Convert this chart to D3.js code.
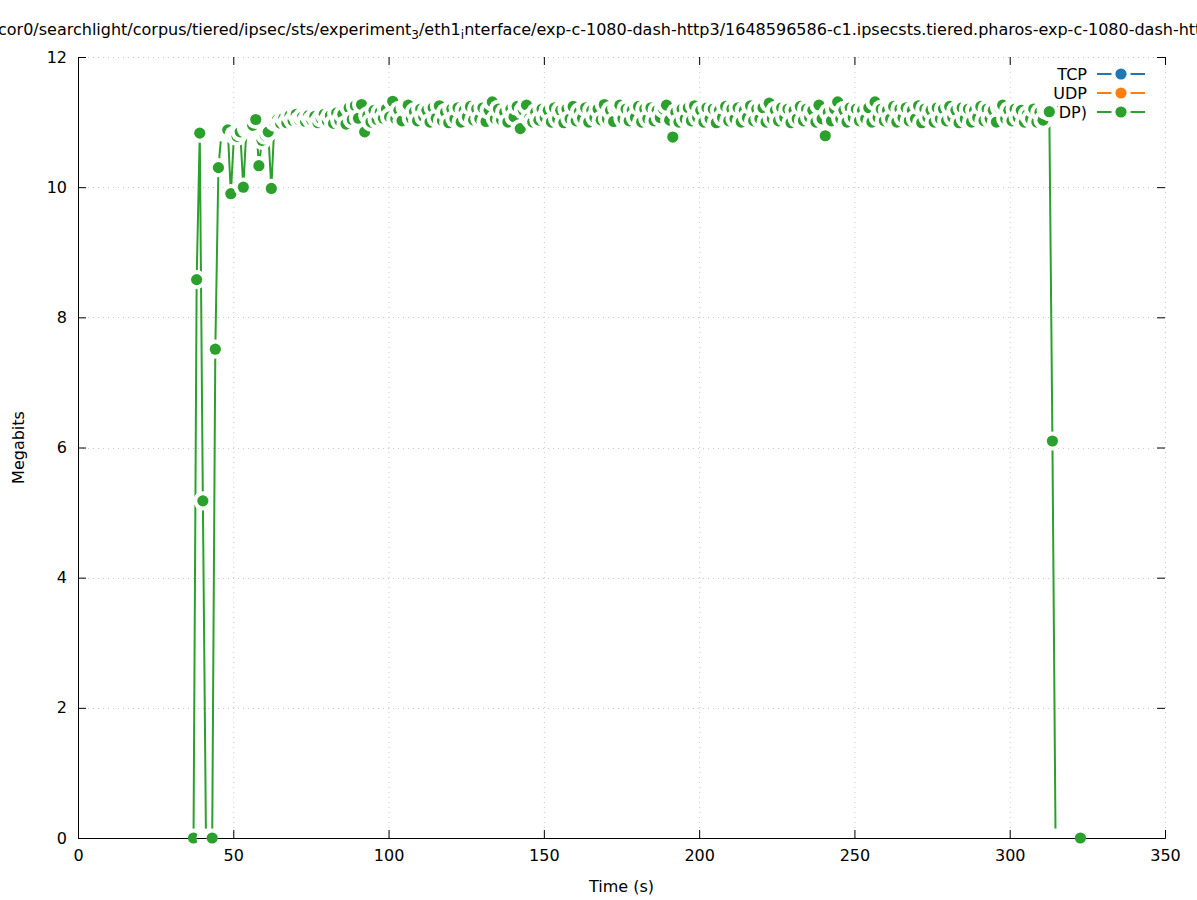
<!DOCTYPE html>
<html>
<head>
<meta charset="utf-8">
<script src="https://cdn.jsdelivr.net/npm/d3@7"></script>
<style>
  html, body { margin: 0; padding: 0; background: #ffffff; }
  svg { display: block; font-family: "DejaVu Sans", sans-serif; }
</style>
</head>
<body>
<svg id="chart" width="1197" height="900"></svg>
<script>
// ---------------- data ----------------
const seriesNames = ["TCP", "UDP", "Total (TCP+UDP)"];
const seriesColors = ["#1f77b4", "#ff7f0e", "#2ca02c"];
const xTicks = [0, 50, 100, 150, 200, 250, 300, 350];
const yTicks = [0, 2, 4, 6, 8, 10, 12];

// samples of the total series, one per interval starting at startTime
const startTime = 37.2;
const interval = 1.002;
const megabits = [
  0, 8.58, 10.83, 5.18, 0, 0, 0, 7.51, 10.30, 10.85,
  10.87, 10.88, 9.90, 10.80, 10.78, 10.85, 10.00, 10.90, 10.93, 10.95,
  11.04, 10.33, 10.72, 10.80, 10.85, 9.98,
  11.00, 11.04, 10.98, 11.06, 10.99, 11.10, 11.02, 11.12, 11.03, 11.08,
  11.01, 11.10, 11.03, 11.09, 10.99, 11.06, 11.12, 11.02, 11.10, 10.98,
  11.14, 11.02, 11.12, 10.97, 11.22, 11.04, 11.25, 11.06, 11.27, 10.85,
  11.10, 11.00, 11.18, 11.04, 11.15, 11.06, 11.20, 11.08, 11.32, 11.05,
  11.18, 11.02, 11.22, 11.26, 11.06, 11.16, 11.02, 11.20, 11.08, 11.18,
  11.00, 11.22, 11.06, 11.25, 11.02, 11.15, 10.99, 11.20, 11.05, 11.22,
  11.00, 11.18, 11.08, 11.24, 11.03, 11.20, 11.05, 11.22, 11.01, 11.18,
  11.31, 11.05, 11.20, 11.03, 11.15, 11.00, 11.20, 11.08, 11.24, 10.90,
  11.18, 11.26, 11.06, 11.00, 11.15, 11.03, 11.20, 11.07, 11.18, 11.00,
  11.22, 11.05, 11.18, 10.99, 11.20, 11.05, 11.24, 11.02, 11.16, 11.06,
  11.22, 11.00, 11.18, 11.07, 11.20, 11.03, 11.27, 11.05, 11.18, 11.01,
  11.22, 11.26, 11.05, 11.20, 11.02, 11.18, 11.07, 11.24, 11.00, 11.20,
  11.05, 11.22, 11.02, 11.18, 11.07, 11.20, 11.26, 11.03, 10.77, 11.15,
  11.00, 11.20, 11.05, 11.22, 11.02, 11.25, 11.07, 11.18, 11.00, 11.22,
  11.05, 11.20, 10.99, 11.18, 11.07, 11.24, 11.02, 11.20, 11.05, 11.22,
  11.00, 11.18, 11.07, 11.25, 11.02, 11.20, 11.05, 11.22, 11.00, 11.29,
  11.05, 11.18, 11.02, 11.22, 11.07, 11.20, 10.99, 11.18, 11.05, 11.24,
  11.02, 11.20, 11.07, 11.18, 11.00, 11.26, 11.05, 10.79, 11.15, 11.02,
  11.20, 11.31, 11.05, 11.18, 11.00, 11.22, 11.07, 11.20, 11.02, 11.18,
  11.05, 11.22, 11.00, 11.31, 11.07, 11.20, 11.02, 11.18, 11.05, 11.24,
  11.00, 11.20, 11.07, 11.22, 11.02, 11.18, 11.05, 11.25, 10.99, 11.20,
  11.07, 11.18, 11.00, 11.22, 11.05, 11.20, 11.02, 11.24, 11.07, 11.18,
  10.99, 11.22, 11.05, 11.20, 11.00, 11.18, 11.07, 11.24, 11.02, 11.20,
  11.05, 11.18, 11.00, 11.22, 11.26, 11.05, 11.18, 11.02, 11.20, 11.07,
  11.18, 11.00, 11.12, 11.05, 11.20, 11.00, 11.15, 11.03, 11.18, 11.16,
  6.10, 0, 0, 0, 0, 0, 0, 0, 0, 0
];

// ---------------- layout ----------------
const W = 1197, H = 900;
const margin = { left: 78, right: 32, top: 57, bottom: 62 };
const haloR = 9.6, dotR = 5.6;
const svg = d3.select("#chart");

const x = d3.scaleLinear().domain([0, 350]).range([margin.left, W - margin.right]);
const y = d3.scaleLinear().domain([0, 12]).range([H - margin.bottom, margin.top]);

const points = megabits.map((v, i) => ({ t: startTime + i * interval, v }));

// grid
const grid = svg.append("g").attr("stroke", "#c8c8c8").attr("stroke-width", 1)
  .attr("stroke-dasharray", "1,4");
xTicks.forEach(t => {
  if (t === 0) return;
  grid.append("line").attr("x1", x(t) + 0.5).attr("x2", x(t) + 0.5)
    .attr("y1", y(0)).attr("y2", y(12));
});
yTicks.forEach(t => {
  if (t === 0) return;
  grid.append("line").attr("y1", Math.round(y(t)) + 0.5).attr("y2", Math.round(y(t)) + 0.5)
    .attr("x1", x(0)).attr("x2", x(350));
});

// axes (gnuplot style: inward ticks, mirrored)
const axisFont = "16px";
const axBottom = svg.append("g").attr("transform", `translate(0,${y(0)})`)
  .call(d3.axisBottom(x).tickValues(xTicks).tickSize(-8).tickPadding(12).tickFormat(d3.format("d")));
const axLeft = svg.append("g").attr("transform", `translate(${x(0)},0)`)
  .call(d3.axisLeft(y).tickValues(yTicks).tickSize(-8).tickPadding(11).tickFormat(d3.format("d")));
const axTop = svg.append("g").attr("transform", `translate(0,${y(12)})`)
  .call(d3.axisTop(x).tickValues(xTicks).tickSize(-8).tickFormat(""));
const axRight = svg.append("g").attr("transform", `translate(${x(350)},0)`)
  .call(d3.axisRight(y).tickValues(yTicks).tickSize(-8).tickFormat(""));
[axBottom, axLeft, axTop, axRight].forEach(g => {
  g.selectAll("text").attr("font-size", axisFont).attr("fill", "#000")
    .attr("font-family", "DejaVu Sans, sans-serif");
  g.selectAll("line").attr("stroke", "#000");
});
axTop.select(".domain").remove();
axRight.select(".domain").remove();
axBottom.select(".domain").attr("stroke", "#000");
axLeft.select(".domain").attr("stroke", "#000");

// axis titles
svg.append("text").attr("x", (x(0) + x(350)) / 2).attr("y", 892)
  .attr("text-anchor", "middle").attr("font-size", "16px").text("Time (s)");
svg.append("text").attr("transform", `translate(24,${(y(0) + y(12)) / 2}) rotate(-90)`)
  .attr("text-anchor", "middle").attr("font-size", "16px").text("Megabits");

// title (gnuplot enhanced text with subscripts)
const title = svg.append("text").attr("x", -2).attr("y", 35).attr("font-size", "16px");
title.append("tspan").text("cor0/searchlight/corpus/tiered/ipsec/sts/experiment");
title.append("tspan").attr("font-size", "12px").attr("dy", 4).text("3");
title.append("tspan").attr("dy", -4).text("/eth1");
title.append("tspan").attr("font-size", "12px").attr("dy", 4).text("i");
title.append("tspan").attr("dy", -4).text("nterface/exp-c-1080-dash-http3/1648596586-c1.ipsecsts.tiered.pharos-exp-c-1080-dash-http3.pcap");

// legend (drawn before data, data halos cover it)
const legend = svg.append("g");
seriesNames.forEach((name, i) => {
  const ly = 74 + i * 19;
  legend.append("text").attr("x", 1087).attr("y", ly + 6).attr("text-anchor", "end")
    .attr("font-size", "16px").text(name);
  legend.append("line").attr("x1", 1097).attr("x2", 1145).attr("y1", ly).attr("y2", ly)
    .attr("stroke", seriesColors[i]).attr("stroke-width", 2);
  legend.append("circle").attr("cx", 1121).attr("cy", ly).attr("r", haloR).attr("fill", "#fff");
  legend.append("circle").attr("cx", 1121).attr("cy", ly).attr("r", dotR).attr("fill", seriesColors[i]);
});

// clip region for the connecting line: plot interior
const defs = svg.append("defs");
defs.append("clipPath").attr("id", "innerclip").append("rect")
  .attr("x", x(0) + 1).attr("y", 0).attr("width", x(350) - x(0)).attr("height", y(0));

const line = d3.line().x(d => x(d.t)).y(d => y(d.v));
svg.append("path").datum(points).attr("clip-path", "url(#innerclip)")
  .attr("fill", "none").attr("stroke", seriesColors[2]).attr("stroke-width", 2)
  .attr("stroke-linejoin", "round").attr("d", line);

// points: background halo then filled dot, one after another
const marks = svg.append("g");
points.forEach(d => {
  marks.append("circle").attr("cx", x(d.t)).attr("cy", y(d.v)).attr("r", haloR).attr("fill", "#fff");
  marks.append("circle").attr("cx", x(d.t)).attr("cy", y(d.v)).attr("r", dotR).attr("fill", seriesColors[2]);
});

// bottom border redrawn over the halos, but hidden under the dots that remain visible
const mask = defs.append("mask").attr("id", "axismask").attr("maskUnits", "userSpaceOnUse")
  .attr("x", 0).attr("y", 0).attr("width", W).attr("height", H);
mask.append("rect").attr("x", 0).attr("y", 0).attr("width", W).attr("height", H).attr("fill", "#fff");
points.forEach(d => {
  mask.append("circle").attr("cx", x(d.t)).attr("cy", y(d.v)).attr("r", haloR).attr("fill", "#fff");
  mask.append("circle").attr("cx", x(d.t)).attr("cy", y(d.v)).attr("r", dotR).attr("fill", "#000");
});
svg.append("line").attr("mask", "url(#axismask)")
  .attr("x1", x(0)).attr("x2", x(350)).attr("y1", y(0) + 0.5).attr("y2", y(0) + 0.5)
  .attr("stroke", "#000").attr("stroke-width", 1);
</script>
</body>
</html>
